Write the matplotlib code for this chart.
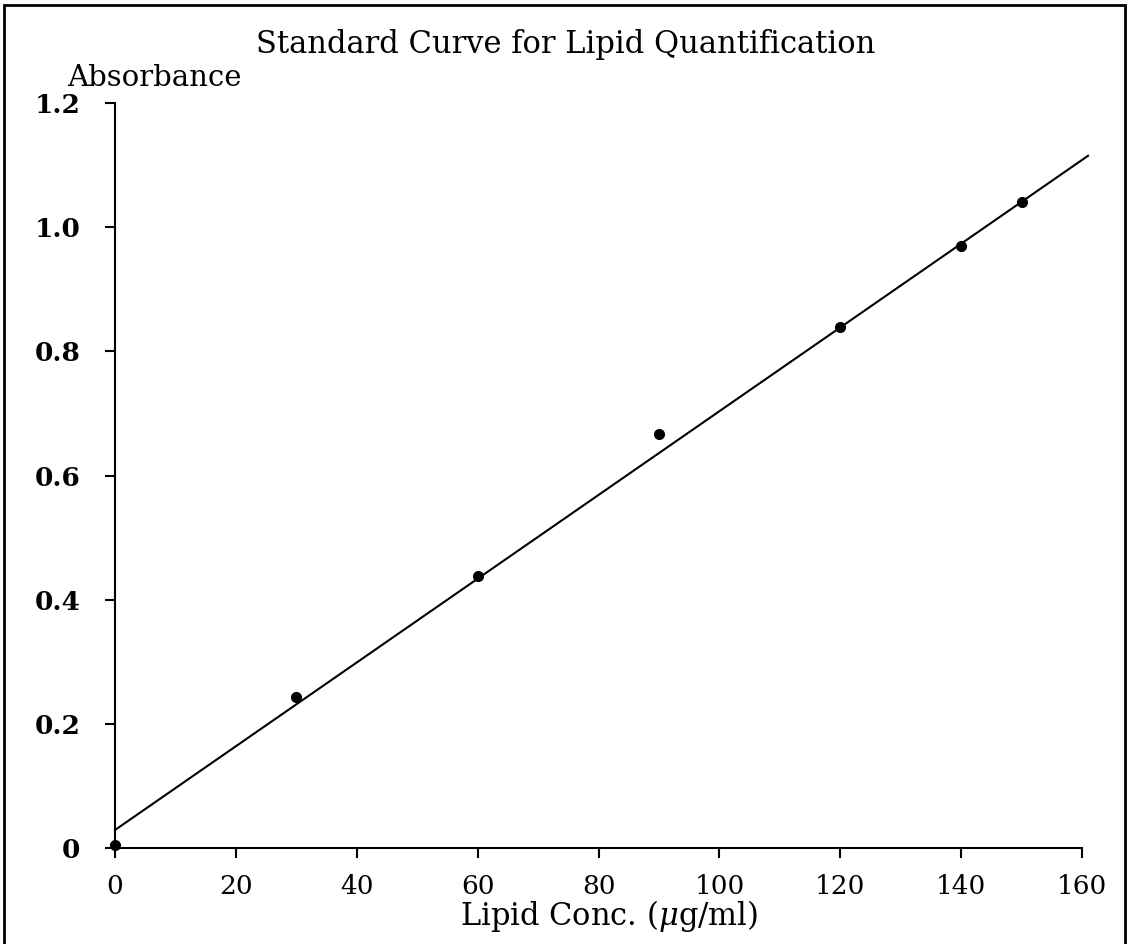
import matplotlib
matplotlib.use("Agg")
import matplotlib.pyplot as plt
from matplotlib.patches import Rectangle

# Data
conc = [0, 30, 60, 90, 120, 140, 150]
absorbance = [0.005, 0.243, 0.438, 0.667, 0.839, 0.970, 1.041]
fit_x = [0, 161]
fit_y = [0.029, 1.115]
x_ticks = [0, 20, 40, 60, 80, 100, 120, 140, 160]
y_ticks = [0, 0.2, 0.4, 0.6, 0.8, 1.0, 1.2]
y_ticklabels = ["0", "0.2", "0.4", "0.6", "0.8", "1.0", "1.2"]

plt.rcParams['font.family'] = ['DejaVu Serif']
plt.rcParams['mathtext.fontset'] = 'dejavuserif'

W, H = 1131, 944
fig = plt.figure(figsize=(W / 100, H / 100), dpi=100)
ax = fig.add_axes([115 / W, 1 - 848 / H, (1082 - 115) / W, (848 - 103) / H])

ax.plot(fit_x, fit_y, color='black', lw=1.5, clip_on=False, zorder=2)
ax.plot(conc, absorbance, 'o', color='black', markersize=7, clip_on=False, zorder=3)

ax.set_xlim(0, 160)
ax.set_ylim(0, 1.2)
ax.set_xticks(x_ticks)
ax.set_xticklabels([str(v) for v in x_ticks], fontsize=19)
ax.set_yticks(y_ticks)
ax.set_yticklabels(y_ticklabels, fontsize=19, fontweight='bold')

for s in ['top', 'right']:
    ax.spines[s].set_visible(False)
for s in ['left', 'bottom']:
    ax.spines[s].set_linewidth(1.5)
ax.tick_params(direction='out', length=7, width=1.5)
ax.tick_params(axis='x', pad=12)
ax.tick_params(axis='y', pad=18)

ax.set_xlabel(r"Lipid Conc. ($\mu$g/ml)", fontsize=22, labelpad=-1)
ax.xaxis.label.set_x((609 - 115) / (1082 - 115))

fig.text(0.5, 1 - 45 / H, "Standard Curve for Lipid Quantification",
         ha='center', va='center', fontsize=22)
fig.text(67 / W, 1 - 78 / H, "Absorbance", ha='left', va='center', fontsize=21)

# figure frame
fig.add_artist(Rectangle((4 / W, -0.05), (1125 - 4) / W, 1.05 - 5 / H,
                         transform=fig.transFigure, fill=False,
                         edgecolor='black', lw=2, clip_on=False))

fig.savefig("out.png", dpi=100)
